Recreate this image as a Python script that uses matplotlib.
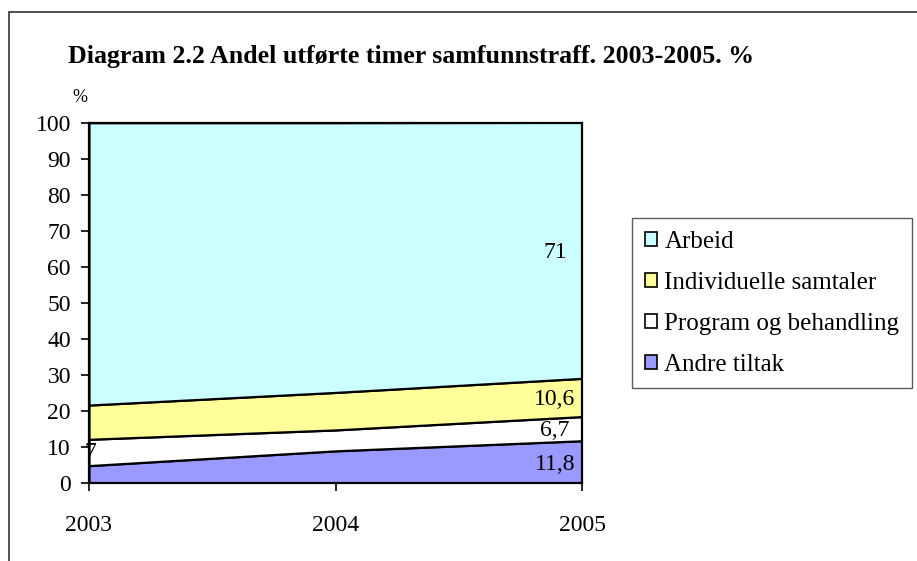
import matplotlib.pyplot as plt
from matplotlib.patches import Patch, Rectangle

years = [2003, 2004, 2005]
series_names = ['Andre tiltak', 'Program og behandling', 'Individuelle samtaler', 'Arbeid']
andre = [4.9, 9.0, 11.8]
program = [7.3, 5.8, 6.7]
individuelle = [9.5, 10.4, 10.6]
arbeid = [78.3, 74.8, 71.0]
colors = ['#9999FF', '#FFFFFF', '#FFFF99', '#CCFFFF']
label_texts = ['11,8', '6,7', '10,6', '71']
yticks = list(range(0, 101, 10))

plt.rcParams['font.family'] = ['Liberation Serif', 'DejaVu Serif']

W, H = 917, 561
fig = plt.figure(figsize=(W / 100, H / 100), dpi=100)
# outer chart border (only top and left visible)
fig.patches.append(Rectangle((9 / W, -0.1), 2, 1.1 - 12 / H, transform=fig.transFigure,
                             fill=False, edgecolor='#333333', lw=1.2))

ax = fig.add_axes([89 / W, (H - 483.3) / H, (582 - 89) / W, (483.3 - 122.7) / H])
data = [andre, program, individuelle, arbeid]
ax.stackplot(years, data, colors=colors, edgecolor='black', linewidth=1.6)

ax.set_xlim(2003, 2005)
ax.set_ylim(0, 100)
ax.set_yticks(yticks)
ax.set_xticks(years)
ax.tick_params(axis='y', labelsize=17, length=6, width=1.2, direction='out', pad=7)
ax.tick_params(axis='x', labelsize=17, length=6, width=1.2, direction='out', pad=16.5)
for s in ax.spines.values():
    s.set_linewidth(1.6)
    s.set_color('black')

# data labels: middle of each band at 2005, plus the 2003 label for Program
cum = [0, 0, 0]
for vals, lab in zip(data, label_texts):
    mid = cum[2] + vals[2] / 2
    ax.annotate(lab, (2005, mid), xytext=(-19.5, -1.5), textcoords='offset points',
                ha='center', va='center', fontsize=17)
    if vals is program:
        mid0 = cum[0] + vals[0] / 2
        ax.annotate('7', (2003, mid0), xytext=(1, 0), textcoords='offset points',
                    ha='center', va='center', fontsize=17)
    cum = [c + v for c, v in zip(cum, vals)]

fig.text(68 / W, 1 - 57 / H, 'Diagram 2.2 Andel utførte timer samfunnstraff. 2003-2005. %',
         fontsize=18.6, fontweight='bold', va='center', ha='left')
fig.text(80 / W, 1 - 98 / H, '%', fontsize=13, va='center', ha='center')

handles = [Patch(facecolor=c, edgecolor='black', linewidth=1.2) for c in colors[::-1]]
leg = fig.legend(handles, series_names[::-1], loc='upper left',
                 bbox_to_anchor=(632 / W, 1 - 218 / H), borderaxespad=0,
                 fontsize=18, frameon=True, fancybox=False, edgecolor='#333333',
                 handlelength=0.5, handleheight=0.5, handletextpad=0.3,
                 labelspacing=0.76, borderpad=0.5)
leg.get_frame().set_linewidth(1.0)

fig.savefig('out.png', dpi=100)
